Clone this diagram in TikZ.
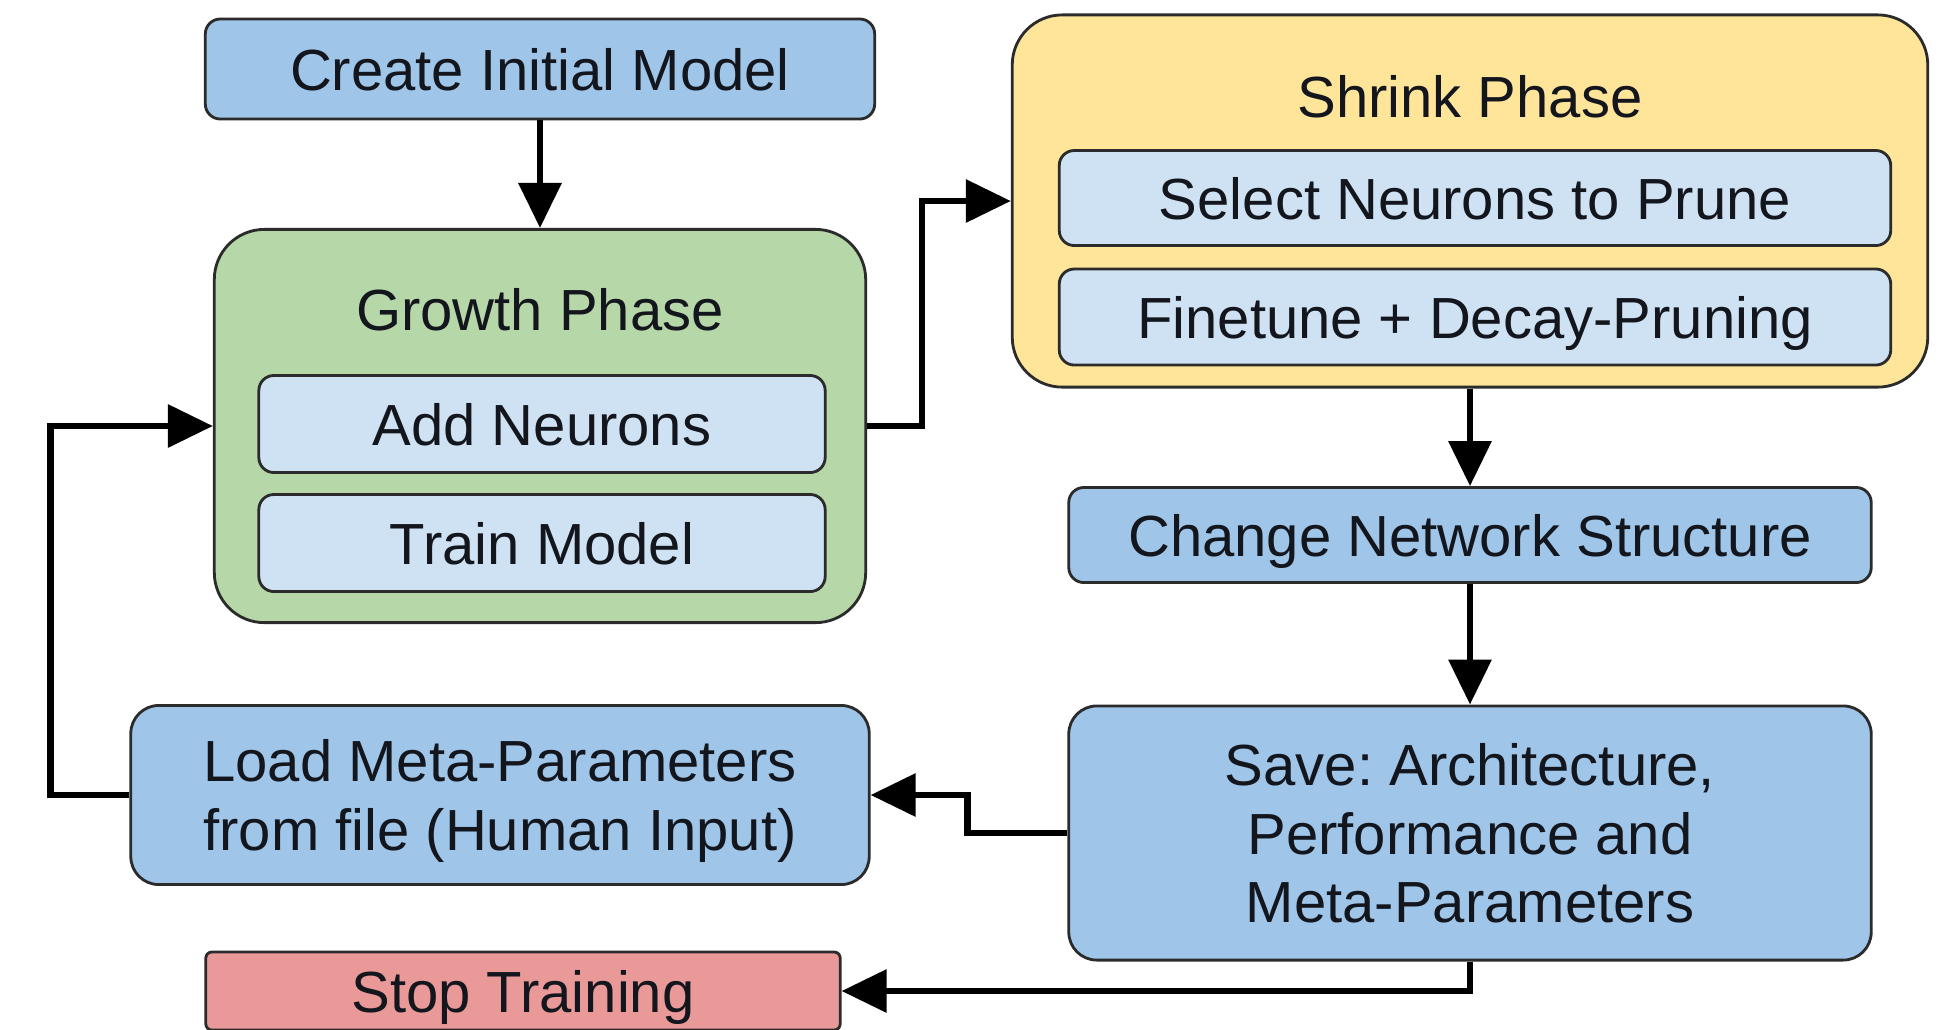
\documentclass[tikz,border=0pt]{standalone}
\usepackage{fontspec}
\setmainfont{Liberation Sans}
\usetikzlibrary{arrows.meta}
\definecolor{stepblue}{HTML}{9FC5E8}
\definecolor{subblue}{HTML}{CFE2F3}
\definecolor{growgreen}{HTML}{B6D7A8}
\definecolor{shrinkyellow}{HTML}{FFE599}
\definecolor{stopred}{HTML}{EA9999}
\definecolor{edge}{HTML}{2B2B2B}
\definecolor{ink}{HTML}{14161E}
\frenchspacing

\begin{document}
\begin{tikzpicture}[x=0.01cm,y=-0.01cm]
      \tikzset{block/.style={draw=edge,
          line width=0.8pt,
          fill=#1,
          rounded corners=0.15cm,
          inner sep=0pt,
          text depth=0pt,
          align=center,
          text=ink,
          font=\fontsize{16.5}{19.6}\selectfont},
        phase/.style={draw=edge,
          line width=0.8pt,
          fill=#1,
          rounded corners=0.5cm,
          inner sep=0pt},
        title/.style={text=ink,font=\fontsize{16.5}{19.6}\selectfont},
        flow/.style={line width=1.8pt,-{Triangle[length=0.45cm,width=0.42cm]}}
      }
      \useasboundingbox (0,0) rectangle (1960,1029);

      % phases
      \node [phase=growgreen,minimum width=6.51cm,minimum height=3.93cm] (growth) at (540,426) {};
      \node [title] (growthtitle) at (540,310) {Growth Phase};
      \node [phase=shrinkyellow,minimum width=9.15cm,minimum height=3.72cm] (shrink) at (1470,201) {};
      \node [title] (shrinktitle) at (1470,97) {Shrink Phase};

      % steps
      \node [block=stepblue,minimum width=6.69cm,minimum height=1.00cm] (create) at (540,69) {Create Initial Model};
      \node [block=subblue,minimum width=5.66cm,minimum height=0.97cm] (add) at (542,424) {Add Neurons};
      \node [block=subblue,minimum width=5.66cm,minimum height=0.97cm] (train) at (542,543) {Train Model};
      \node [block=subblue,minimum width=8.31cm,minimum height=0.95cm] (select) at (1475,198) {Select Neurons to Prune};
      \node [block=subblue,minimum width=8.31cm,minimum height=0.96cm] (finetune) at (1475,317) {Finetune + Decay-Pruning};
      \node [block=stepblue,minimum width=8.02cm,minimum height=0.95cm] (change) at (1470,535) {Change Network Structure};
      \node [block=stepblue,rounded corners=0.28cm,minimum width=8.02cm,minimum height=2.54cm] (save) at (1470,833) {Save: Architecture,\\Performance and\\Meta-Parameters};
      \node [block=stepblue,rounded corners=0.28cm,minimum width=7.38cm,minimum height=1.79cm] (load) at (500,795) {Load Meta-Parameters\\from file (Human Input)};
      \node [block=stopred,rounded corners=0.06cm,minimum width=6.34cm,minimum height=0.78cm] (stop) at (523,991) {Stop Training};

      % connectors
      \draw [flow] (create)--(growth);
      \draw [flow] (growth.east)--++(55,0)|-(shrink.west);
      \draw [flow] (shrink)--(change);
      \draw [flow] (change)--(save);
      \draw [flow] (save.west)--++(-100,0)|-(load.east);
      \draw [flow] (load.west)--++(-79,0)|-(growth.west);
      \draw [flow] (save.south)|-(stop.east);
\end{tikzpicture}
\end{document}
